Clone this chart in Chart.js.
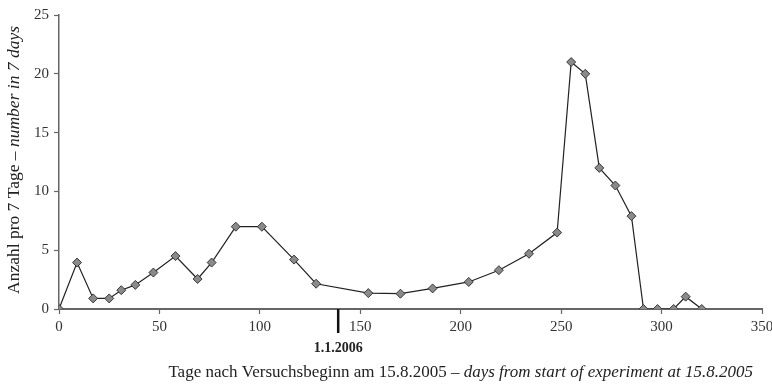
<!DOCTYPE html>
<html>
<head>
<meta charset="utf-8">
<script src="https://cdn.jsdelivr.net/npm/chart.js@4.4.0/dist/chart.umd.min.js"></script>
<style>
  html, body { margin: 0; padding: 0; background: #fff; }
  #wrap { width: 772px; height: 384px; }
</style>
</head>
<body>
<div id="wrap"><canvas id="chart" width="772" height="384"></canvas></div>
<script>
// Tage seit Versuchsbeginn (15.8.2005) und Anzahl pro 7 Tage
const days = [0, 9, 17, 25, 31, 38, 47, 58, 69, 76, 88, 101, 117, 128, 154, 170,
  186, 204, 219, 234, 248, 255, 262, 269, 277, 285, 291, 298, 306, 312, 320];
const counts = [0, 3.95, 0.9, 0.9, 1.6, 2.05, 3.1, 4.5, 2.55, 3.95, 7.0, 7.0, 4.2, 2.15, 1.35, 1.3,
  1.75, 2.3, 3.3, 4.7, 6.5, 21, 20, 12, 10.5, 7.9, 0, 0, 0, 1.05, 0];

const xTicks = [0, 50, 100, 150, 200, 250, 300, 350];
const yTicks = [0, 5, 10, 15, 20, 25];

// Jahreswechsel als Markierung auf der x-Achse
const yearMark = { day: 139, label: "1.1.2006" };

const serif = "'Liberation Serif', 'DejaVu Serif', serif";

// Achsentitel mit deutschem (normal) und englischem (kursiv) Teil
const titles = {
  x: [["Tage nach Versuchsbeginn am 15.8.2005 – ", "normal"], ["days from start of experiment at 15.8.2005", "italic"]],
  y: [["Anzahl pro 7 Tage – ", "normal"], ["number in 7 days", "italic"]]
};

function drawParts(ctx, parts, size, startX, y) {
  let x = startX;
  parts.forEach(([txt, style]) => {
    ctx.font = style + " " + size + "px " + serif;
    ctx.fillText(txt, x, y);
    x += ctx.measureText(txt).width;
  });
}

function partsWidth(ctx, parts, size) {
  let w = 0;
  parts.forEach(([txt, style]) => {
    ctx.font = style + " " + size + "px " + serif;
    w += ctx.measureText(txt).width;
  });
  return w;
}

const extras = {
  id: "extras",
  afterDraw(chart) {
    const ctx = chart.ctx;
    const xs = chart.scales.x;
    const area = chart.chartArea;
    ctx.save();
    ctx.fillStyle = "#222";
    ctx.textBaseline = "middle";
    ctx.textAlign = "left";

    // x title
    const tw = partsWidth(ctx, titles.x, 17);
    drawParts(ctx, titles.x, 17, 753 - tw, 373);

    // y title, rotated
    ctx.save();
    ctx.translate(14, 160);
    ctx.rotate(-Math.PI / 2);
    const yw = partsWidth(ctx, titles.y, 17.5);
    drawParts(ctx, titles.y, 17.5, -yw / 2, 0);
    ctx.restore();

    // year marker
    const mx = xs.getPixelForValue(yearMark.day);
    ctx.strokeStyle = "#111";
    ctx.lineWidth = 2.5;
    ctx.beginPath();
    ctx.moveTo(mx, area.bottom);
    ctx.lineTo(mx, area.bottom + 24);
    ctx.stroke();
    ctx.font = "bold 14px " + serif;
    ctx.textAlign = "center";
    ctx.fillText(yearMark.label, mx, 348);
    ctx.restore();
  }
};

new Chart(document.getElementById("chart"), {
  type: "scatter",
  data: {
    datasets: [{
      data: days.map((d, i) => ({ x: d, y: counts[i] })),
      showLine: true,
      borderColor: "#222",
      borderWidth: 1.2,
      pointStyle: "rectRot",
      pointRadius: 4.5,
      pointBackgroundColor: "#8a8a8a",
      pointBorderColor: "#2a2a2a",
      pointBorderWidth: 0.9,
      tension: 0
    }]
  },
  options: {
    responsive: false,
    animation: false,
    events: [],
    layout: { padding: { left: 0, right: 10, top: 15, bottom: 0 } },
    plugins: { legend: { display: false }, tooltip: { enabled: false } },
    scales: {
      x: {
        type: "linear",
        min: 0,
        max: 350,
        afterBuildTicks: s => { s.ticks = xTicks.map(v => ({ value: v })); },
        afterFit: s => { s.height = 75; s.paddingLeft = 0; s.paddingRight = 0; },
        grid: { drawOnChartArea: false, drawTicks: true, tickLength: 5, tickColor: "#666", tickWidth: 1.2 },
        border: { display: true, color: "#666", width: 2 },
        ticks: { maxRotation: 0, autoSkip: false, padding: 4, color: "#333", font: { family: serif, size: 15 } }
      },
      y: {
        min: 0,
        max: 25,
        afterBuildTicks: s => { s.ticks = yTicks.map(v => ({ value: v })); },
        afterFit: s => { s.width = 59; s.paddingTop = 0; s.paddingBottom = 0; },
        grid: { drawOnChartArea: false, drawTicks: true, tickLength: 5, tickColor: "#666", tickWidth: 1.2 },
        border: { display: true, color: "#666", width: 1.5 },
        ticks: { padding: 5, color: "#333", font: { family: serif, size: 15 } }
      }
    }
  },
  plugins: [extras]
});
</script>
</body>
</html>
